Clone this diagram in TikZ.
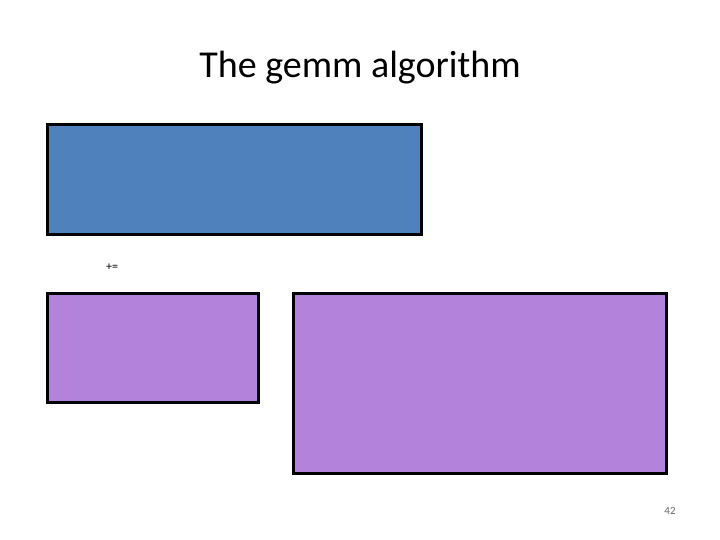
\documentclass[tikz,border=0pt]{standalone}
\usepackage{fontspec}
\setmainfont{Carlito}
\begin{document}
\begin{tikzpicture}[x=1pt,y=-1pt,
  box/.style={draw=black,line width=3pt},
  lbl/.style={inner sep=0pt,text=black}]
\definecolor{bluefill}{HTML}{4F81BD}
\definecolor{purplefill}{HTML}{B383DB}
\useasboundingbox (0,0) rectangle (720,540);
\node[lbl,font=\fontsize{38}{40}\selectfont] (title) at (360,68) {The gemm algorithm};
\path[box,fill=bluefill] (47,125) rectangle (421,234);
\node[lbl,font=\fontsize{12}{14}\selectfont] (pe) at (112,267) {+=};
\path[box,fill=purplefill] (47,293) rectangle (258,402);
\path[box,fill=purplefill] (293,293) rectangle (666,473);
\node[lbl,font=\fontsize{11}{13}\selectfont,text=black!60] (num) at (670,511) {42};
\end{tikzpicture}
\end{document}
